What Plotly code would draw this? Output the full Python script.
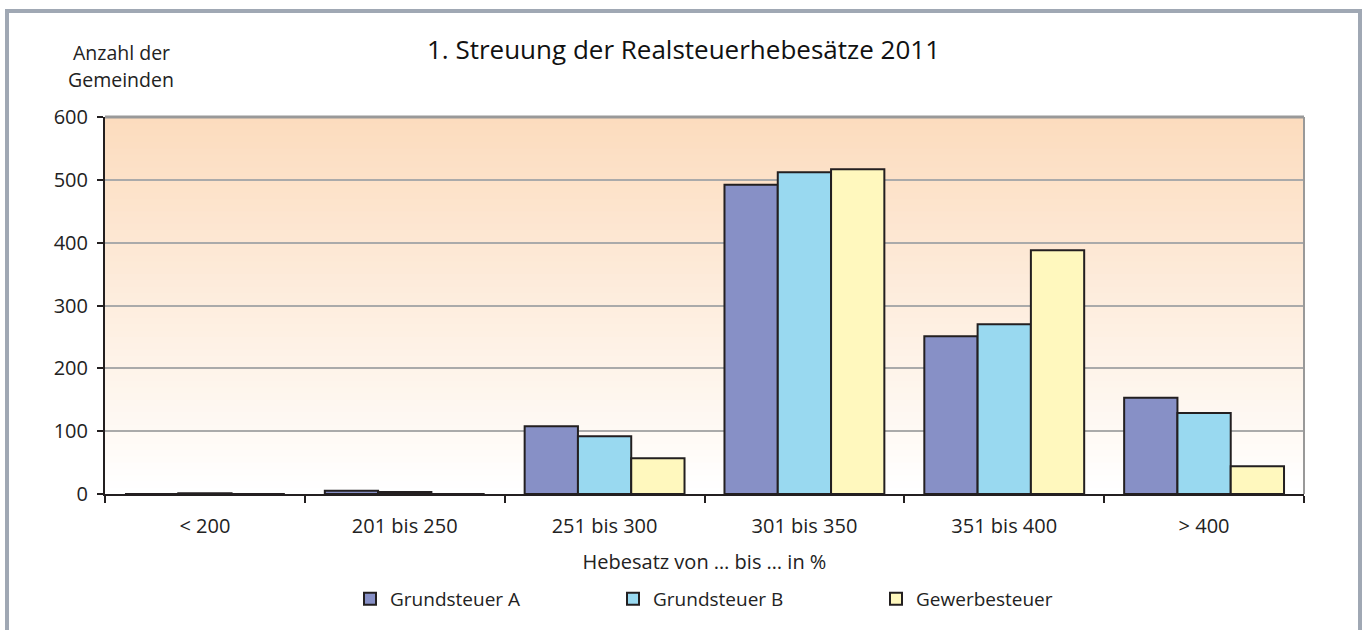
import plotly.graph_objects as go

categories = ["< 200", "201 bis 250", "251 bis 300", "301 bis 350", "351 bis 400", "> 400"]
grundsteuer_a = [0, 5, 108, 492, 251, 153]
grundsteuer_b = [1, 3, 92, 512, 270, 129]
gewerbesteuer = [0, 0, 57, 517, 388, 44]
y_ticks = [0, 100, 200, 300, 400, 500, 600]

FONT = "Open Sans"
OUTLINE = "#231F20"
TXT = "#222222"

fig = go.Figure()
for name, vals, col in [("Grundsteuer A", grundsteuer_a, "#8790C6"),
                        ("Grundsteuer B", grundsteuer_b, "#99D9F0"),
                        ("Gewerbesteuer", gewerbesteuer, "#FFF8BE")]:
    fig.add_trace(go.Bar(x=categories, y=vals, name=name,
                         marker=dict(color=col, line=dict(color=OUTLINE, width=2))))

# gradient background (peach at top -> white at bottom)
n = 60
top = (252, 220, 190)
bot = (255, 255, 255)
shapes = []
for i in range(n):
    t = i / (n - 1)
    c = tuple(round(bot[k] + (top[k] - bot[k]) * t) for k in range(3))
    shapes.append(dict(type="rect", xref="paper", yref="paper",
                       x0=0, x1=1, y0=i / n, y1=(i + 1) / n + 0.002,
                       fillcolor="rgb(%d,%d,%d)" % c, line=dict(width=0), layer="below"))
# outer frame
shapes.append(dict(type="rect", xref="paper", yref="paper",
                   x0=(7 - 105) / 1199, x1=(1360 - 105) / 1199,
                   y0=(494 - 700) / 377, y1=(494 - 11) / 377,
                   line=dict(color="#A0A8B4", width=4), fillcolor="rgba(0,0,0,0)"))
# top and right plot border in grey
shapes.append(dict(type="line", xref="paper", yref="paper", x0=0, x1=1, y0=1, y1=1,
                   line=dict(color="#999999", width=3)))
shapes.append(dict(type="line", xref="paper", yref="paper", x0=1, x1=1, y0=0, y1=1,
                   line=dict(color="#999999", width=2)))

fig.update_layout(
    width=1367, height=630,
    margin=dict(l=105, r=63, t=117, b=136),
    paper_bgcolor="white", plot_bgcolor="rgba(0,0,0,0)",
    font=dict(family=FONT, size=19, color=TXT),
    barmode="group", bargap=0.2, bargroupgap=0,
    shapes=shapes,
    title=dict(text="1. Streuung der Realsteuerhebesätze 2011", x=0.5, xanchor="center",
               y=1 - 50 / 630, yanchor="middle", font=dict(size=26, family=FONT, color="#111111")),
    annotations=[
        dict(text="Anzahl der", xref="paper", yref="paper",
             x=(121 - 105) / 1199, y=(494 - 52) / 377, xanchor="center", yanchor="middle",
             showarrow=False, font=dict(size=19.5, family=FONT, color=TXT)),
        dict(text="Gemeinden", xref="paper", yref="paper",
             x=(121 - 105) / 1199, y=(494 - 80) / 377, xanchor="center", yanchor="middle",
             showarrow=False, font=dict(size=19.5, family=FONT, color=TXT)),
    ],
    legend=dict(orientation="h", x=0.5 + 40 / 1199, xanchor="center", y=(494 - 599) / 377,
                yanchor="middle", font=dict(size=19), entrywidth=218, entrywidthmode="pixels",
                bgcolor="rgba(0,0,0,0)"),
    xaxis=dict(showline=True, linecolor=OUTLINE, linewidth=2, ticks="outside",
               tickson="boundaries", ticklen=7, tickwidth=2, tickcolor=OUTLINE,
               ticklabelstandoff=13,
               title=dict(text="Hebesatz von … bis … in %", standoff=17, font=dict(size=20)),
               tickfont=dict(size=20), showgrid=False),
    yaxis=dict(range=[0, 600], tickvals=y_ticks, showline=True, linecolor=OUTLINE, linewidth=2,
               ticks="outside", ticklen=6, tickwidth=2, tickcolor=OUTLINE,
               ticklabelstandoff=5,
               showgrid=True, gridcolor="#AAAAAA", gridwidth=2, zeroline=False,
               tickfont=dict(size=20), mirror=False),
)

fig.write_html("out.html", config={"displayModeBar": False},
               post_script="document.body.style.margin='0px';")
